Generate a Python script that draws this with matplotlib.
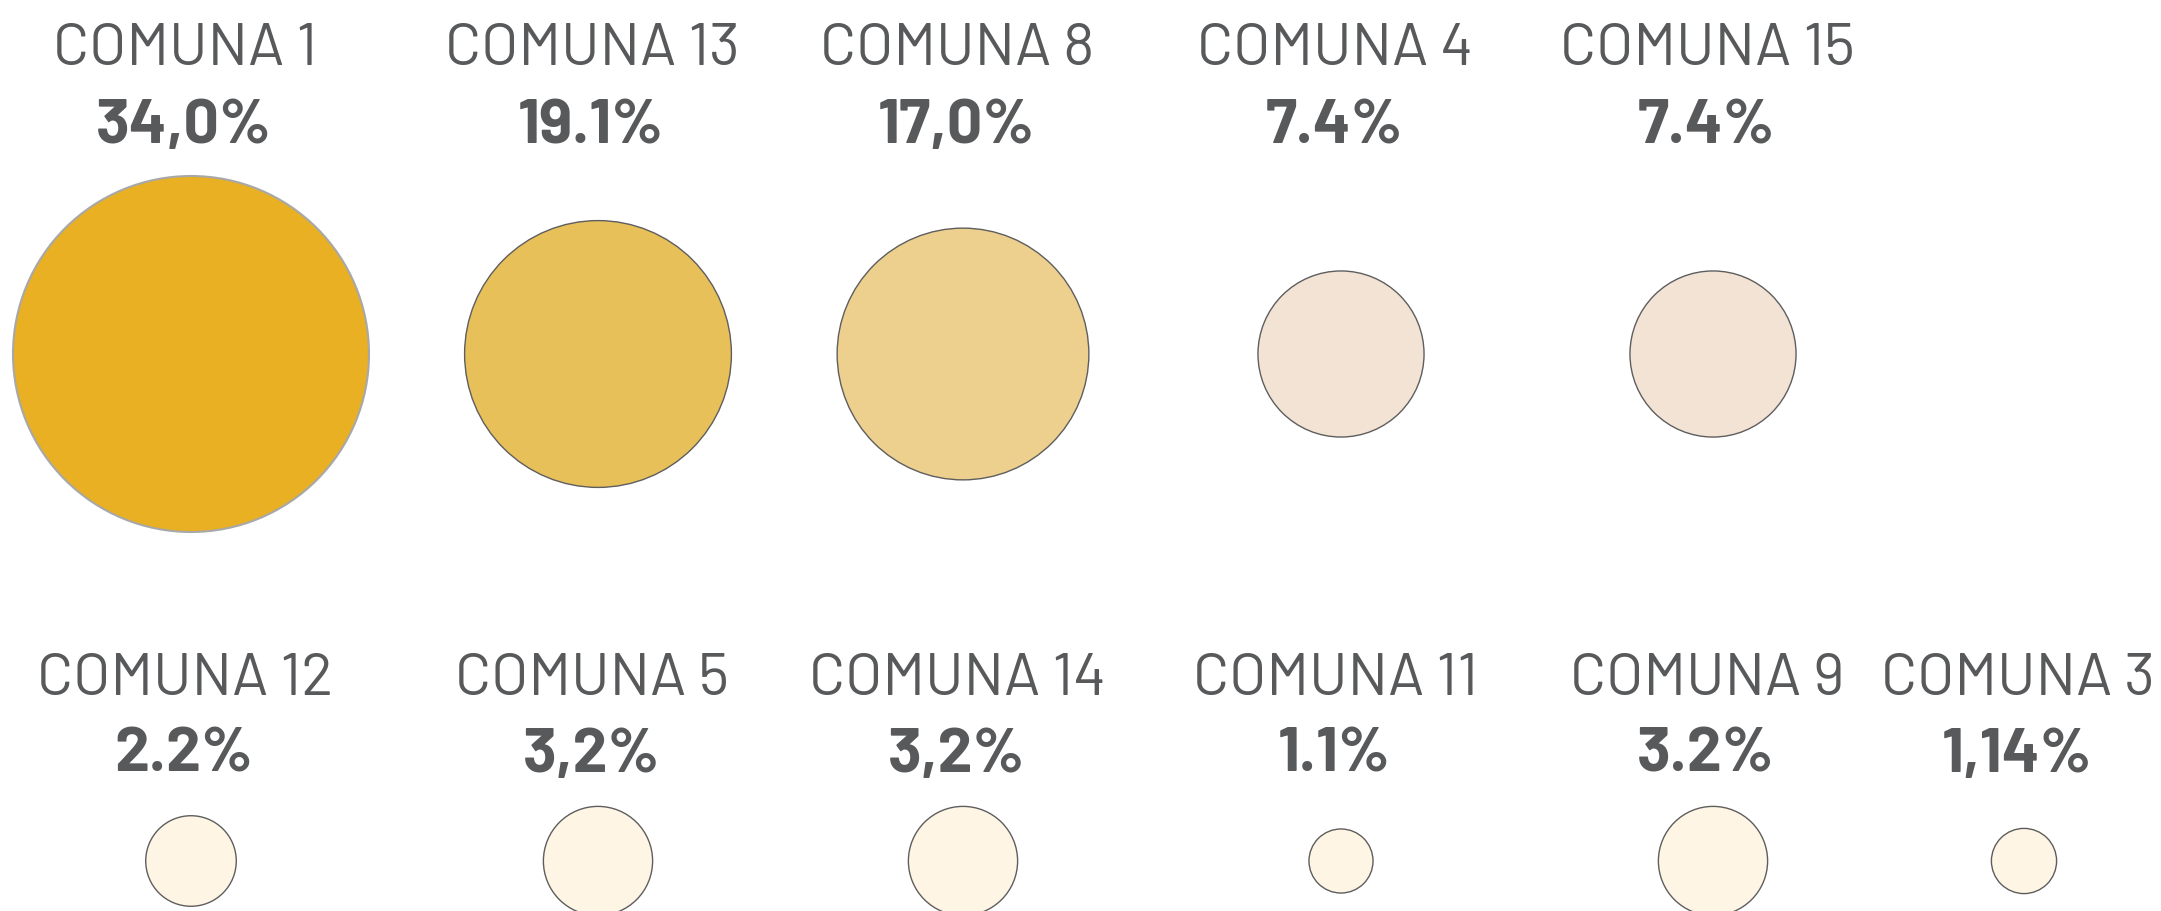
import matplotlib
matplotlib.use("Agg")
import matplotlib.pyplot as plt
from matplotlib.patches import Circle
import numpy as np

# ---- data ----
row1_names = ["COMUNA 1", "COMUNA 13", "COMUNA 8", "COMUNA 4", "COMUNA 15"]
row1_labels = ["34,0%", "19.1%", "17,0%", "7.4%", "7.4%"]
row1_values = [34.0, 19.1, 17.0, 7.4, 7.4]

row2_names = ["COMUNA 12", "COMUNA 5", "COMUNA 14", "COMUNA 11", "COMUNA 9", "COMUNA 3"]
row2_labels = ["2.2%", "3,2%", "3,2%", "1.1%", "3.2%", "1,14%"]
row2_values = [2.2, 3.2, 3.2, 1.1, 3.2, 1.14]

# ---- style / layout ----
W, H = 2161, 912
col_x = [191, 598, 963, 1341, 1713, 2024]
row1_fill = ["#E8B022", "#E8C05A", "#EDCF8E", "#F2E3D4", "#F2E3D4"]
row1_edge = ["#A8A8A8", "#5E5E5E", "#5E5E5E", "#5E5E5E", "#5E5E5E"]
row2_fill = "#FEF5E4"
row2_edge = "#5E5E5E"
text_color = "#58595B"
r_max = 178.0   # pixel radius for the largest value
v_max = max(row1_values)

fig = plt.figure(figsize=(W / 100, H / 100), dpi=100)
ax = fig.add_axes([0, 0, 1, 1])
ax.set_xlim(0, W)
ax.set_ylim(H, 0)
ax.set_aspect("equal")
ax.axis("off")


def radius(v):
    return r_max * np.sqrt(v / v_max)


def draw_row(names, labels, values, fills, edges, cy, name_base, pct_base):
    for i, (n, l, v) in enumerate(zip(names, labels, values)):
        x = col_x[i]
        fc = fills[i] if isinstance(fills, list) else fills
        ec = edges[i] if isinstance(edges, list) else edges
        lw = 1.5 if ec == "#A8A8A8" else 1.0
        ax.add_patch(Circle((x, cy), radius(v), facecolor=fc, edgecolor=ec,
                            linewidth=lw, clip_on=True))
        ax.text(x - 6, name_base, n, ha="center", va="baseline",
                fontsize=43, family="Barlow", weight=400, color=text_color)
        ax.text(x - 7, pct_base, l, ha="center", va="baseline",
                fontsize=45, family="Barlow", weight=700, color=text_color)


draw_row(row1_names, row1_labels, row1_values, row1_fill, row1_edge, 355, 65, 143)
draw_row(row2_names, row2_labels, row2_values, row2_fill, row2_edge, 862, 695, 772)

fig.savefig("out.png", dpi=100, facecolor="white")
